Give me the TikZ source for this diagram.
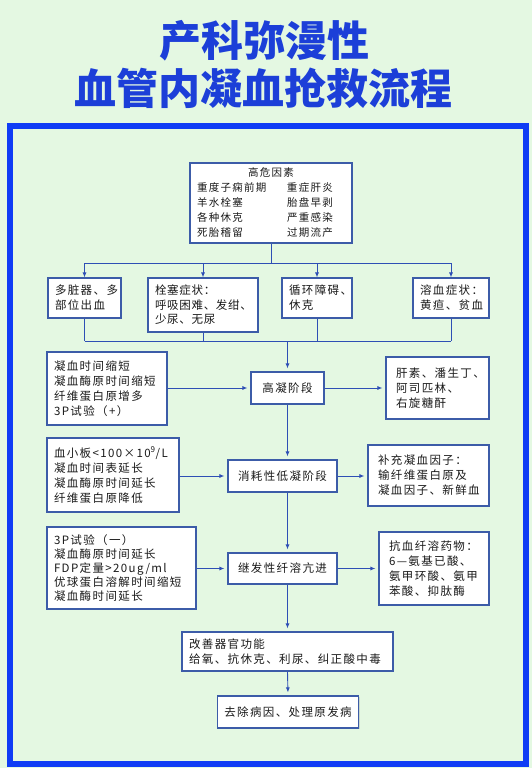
\documentclass[tikz,border=0pt]{standalone}
\usepackage{fontspec}
\setmainfont{Noto Sans CJK SC}
\newfontfamily\titlefont{Noto Sans CJK SC}
\newfontfamily\boxfont{Noto Sans CJK SC}[LetterSpace=12]
\newfontfamily\boxfontn{Noto Sans CJK SC}[LetterSpace=6]
\usetikzlibrary{arrows.meta,shadows}
\hfuzz=300pt
\hbadness=10000
\definecolor{bgc}{HTML}{E4F8E2}
\definecolor{framec}{HTML}{0F3CF5}
\definecolor{titc}{HTML}{1C3FD8}
\definecolor{boxc}{HTML}{3C5CA8}
\definecolor{linec}{HTML}{2E4FB5}
\definecolor{txtc}{HTML}{1A1A1A}
\begin{document}
\begin{tikzpicture}[x=1pt,y=-1pt,
  box/.style={draw=boxc, line width=1.1pt, fill=white, inner xsep=7pt, inner ysep=2pt,
    align=left, font=\boxfont\fontsize{11.5}{15}\selectfont, text=txtc,
    drop shadow={shadow xshift=1pt, shadow yshift=-1pt, opacity=0.25}},
  rbox/.style={box, inner xsep=10pt},
  cbox/.style={box, align=center},
  arr/.style={-{Latex[length=5pt,width=4pt]}, line width=0.9pt, draw=linec},
  farr/.style={arr, shorten >=3pt},
  ln/.style={line width=0.9pt, draw=linec},
  ttl/.style={font=\titlefont\bfseries\fontsize{42}{42}\selectfont, text=titc}]
\useasboundingbox (0,0) rectangle (532,768);
\fill[bgc] (0,0) rectangle (532,768);
\draw[framec, line width=6pt] (10,126) rectangle (526,764);

\node[ttl] (t1) at (264,41) {产科弥漫性};
\node[ttl] (t2) at (263,88) {血管内凝血抢救流程};

\node[box, minimum width=162pt, minimum height=80pt, text width=148pt,
  font=\boxfont\fontsize{10.5}{15}\selectfont] (top) at (271,203)
  {\makebox[148pt]{高危因素}\\
   \makebox[90pt][l]{重度子痫前期}重症肝炎\\
   \makebox[90pt][l]{羊水栓塞}胎盘早剥\\
   \makebox[90pt][l]{各种休克}严重感染\\
   \makebox[90pt][l]{死胎稽留}过期流产};

\node[box, minimum width=73pt, minimum height=40pt, text width=59pt] (b1) at (84.5,298)
  {多脏器、多\\部位出血};
\node[box, minimum width=110pt, minimum height=54pt, text width=96pt,
  font=\boxfontn\fontsize{11.5}{14.5}\selectfont] (b2) at (203,305)
  {栓塞症状：\\呼吸困难、发绀、\\少尿、无尿};
\node[box, minimum width=70pt, minimum height=40pt, text width=56pt] (b3) at (317,298)
  {循环障碍、\\休克};
\node[box, minimum width=76pt, minimum height=40pt, text width=62pt, inner xsep=6pt] (b4) at (451,298)
  {溶血症状：\\黄疸、贫血};

\node[box, minimum width=120pt, minimum height=73pt, text width=106pt] (l1) at (107,388.5)
  {凝血时间缩短\\凝血酶原时间缩短\\纤维蛋白原增多\\3P试验（+）};
\node[cbox, minimum width=73pt, minimum height=32pt] (hc) at (287.5,388) {高凝阶段};
\node[rbox, minimum width=103pt, minimum height=62pt, text width=83pt] (r1) at (437.5,388)
  {肝素、潘生丁、\\阿司匹林、\\右旋糖酐};

\node[box, minimum width=132pt, minimum height=74pt, text width=118pt] (l2) at (113,475)
  {血小板<100×10\textsuperscript{9}/L\\凝血时间表延长\\凝血酶原时间延长\\纤维蛋白原降低};
\node[cbox, minimum width=109pt, minimum height=32pt] (lc) at (282.5,476) {消耗性低凝阶段};
\node[rbox, minimum width=121pt, minimum height=61pt, text width=101pt, inner xsep=9pt] (r2) at (428.5,475.5)
  {补充凝血因子：\\输纤维蛋白原及\\凝血因子、新鲜血};

\node[box, minimum width=149pt, minimum height=82pt, text width=135pt,
  font=\boxfont\fontsize{11.5}{14}\selectfont] (l3) at (121.5,568)
  {3P试验（一）\\凝血酶原时间延长\\FDP定量>20ug/ml\\优球蛋白溶解时间缩短\\凝血酶时间延长};
\node[cbox, minimum width=109pt, minimum height=31pt] (fb) at (282.5,568.5) {继发性纤溶亢进};
\node[rbox, minimum width=110pt, minimum height=73pt, text width=90pt] (r3) at (434,568.5)
  {抗血纤溶药物：\\6—氨基已酸、\\氨甲环酸、氨甲\\苯酸、抑肽酶};

\node[box, minimum width=211pt, minimum height=39pt, text width=197pt] (ob) at (287.5,651.5)
  {改善器官功能\\给氧、抗休克、利尿、纠正酸中毒};
\node[cbox, minimum width=140pt, minimum height=32pt] (eb) at (288,712) {去除病因、处理原发病};

% first bus
\coordinate (j1) at (top.south |- 0,263);
\draw[ln] (top.south) -- (j1);
\draw[ln] (b1.north |- j1) -- (b4.north |- j1);
\foreach \b in {b1,b2,b3,b4} {\draw[arr] (\b.north |- j1) -- (\b.north);}
% second bus
\coordinate (j2) at (hc.north |- 0,341);
\foreach \b in {b1,b2,b3,b4} {\draw[ln] (\b.south) -- (\b.south |- j2);}
\draw[ln] (b1.south |- j2) -- (b4.south |- j2);
\draw[farr] (j2) -- (hc.north);

% main flow
\draw[farr] (hc.south) -- (hc.south |- lc.north);
\draw[farr] (hc.south |- lc.south) -- (hc.south |- fb.north);
\draw[farr] (hc.south |- fb.south) -- (hc.south |- ob.north);
\draw[farr] (ob.south) -- (eb.north);

% side arrows
\draw[farr] (l1.east |- hc) -- (hc.west);
\draw[farr] (hc.east) -- (r1.west |- hc);
\draw[farr] (l2.east |- lc) -- (lc.west);
\draw[farr] (lc.east) -- (r2.west |- lc);
\draw[farr] (l3.east |- fb) -- (fb.west);
\draw[farr] (fb.east) -- (r3.west |- fb);
\end{tikzpicture}
\end{document}
